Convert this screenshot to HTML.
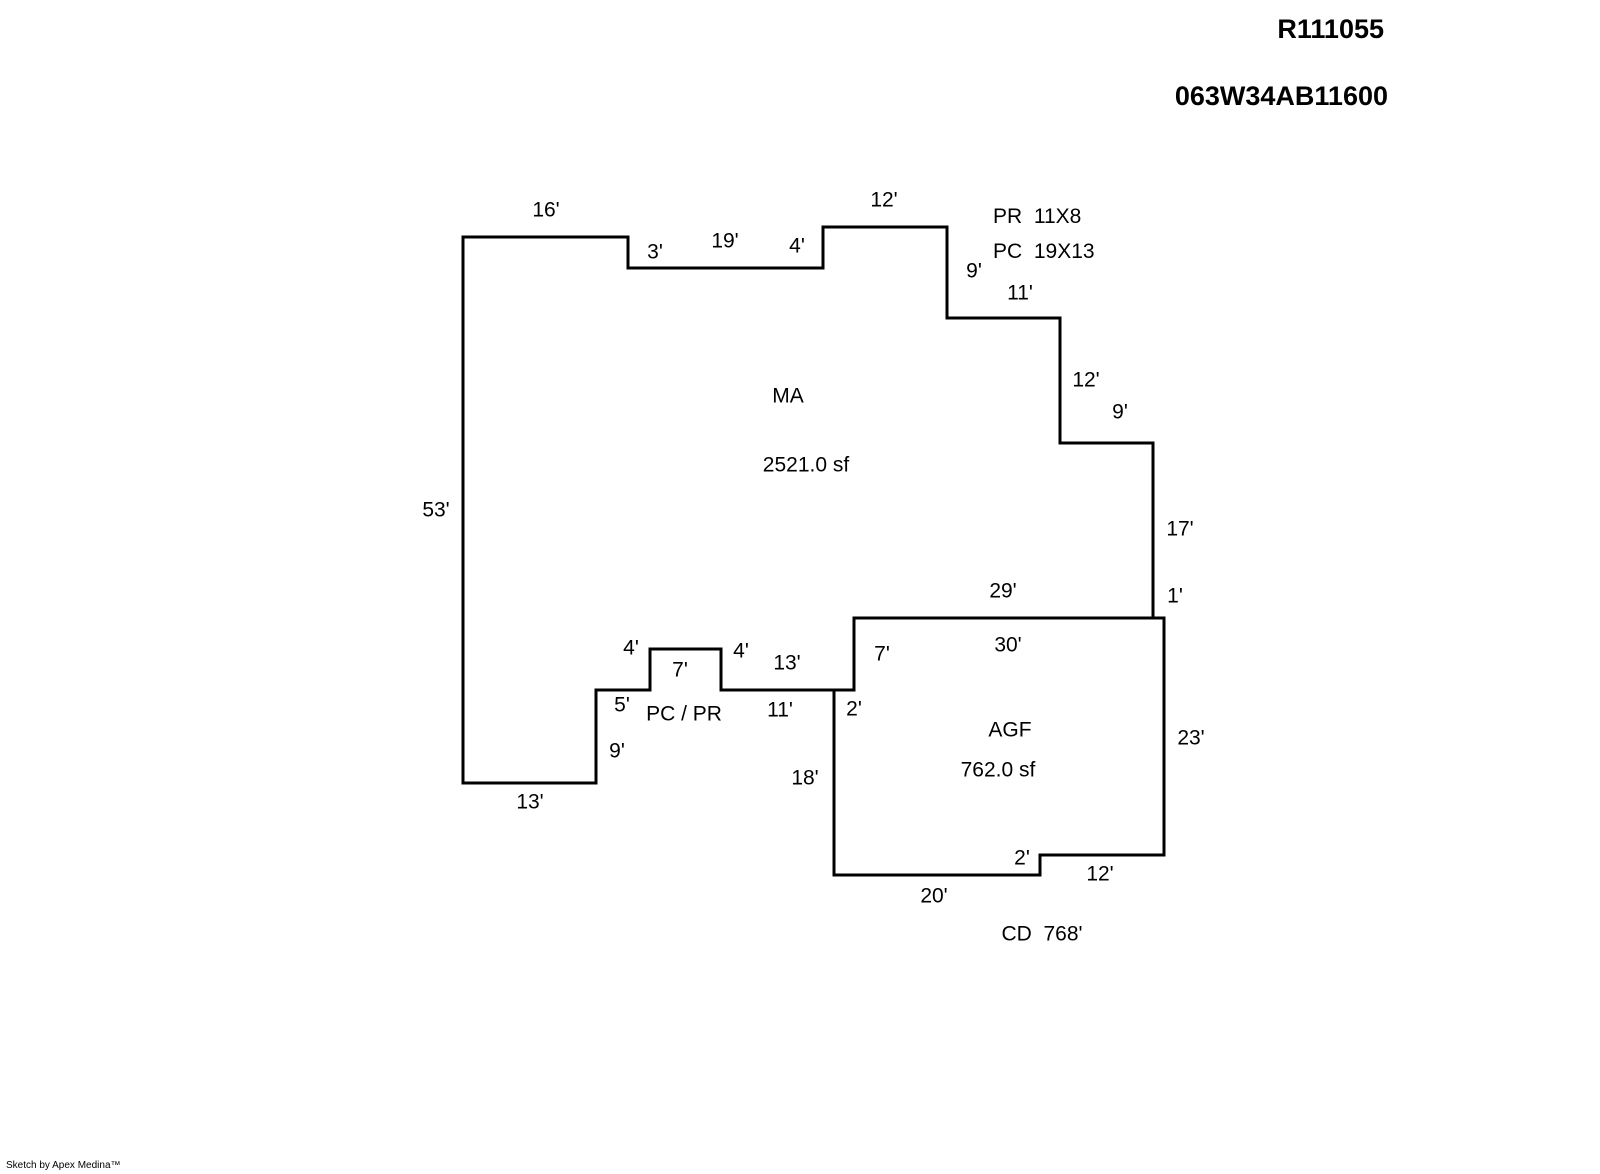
<!DOCTYPE html>
<html><head><meta charset="utf-8"><style>
html,body{margin:0;padding:0;background:#fff}
svg{display:block}
text{font-family:"Liberation Sans",Arial,sans-serif;font-size:21px;fill:#000}
</style></head><body>
<svg width="1600" height="1174" viewBox="0 0 1600 1174" xmlns="http://www.w3.org/2000/svg">
<g fill="none" stroke="#000" stroke-width="3" stroke-linejoin="miter" stroke-linecap="square">
<polyline points="834,690 834,875 1040,875 1040,855 1164,855 1164,618 854,618 854,690 721,690 721,649 650,649 650,690 596,690 596,783 463,783 463,237 628,237 628,268 823,268 823,227 947,227 947,318 1060,318 1060,443 1153,443 1153,618"/>
</g>
<g text-anchor="middle" dominant-baseline="central">
<text x="546" y="210">16'</text>
<text x="655" y="252">3'</text>
<text x="725" y="241">19'</text>
<text x="797" y="246">4'</text>
<text x="884" y="200">12'</text>
<text x="974" y="271">9'</text>
<text x="1020" y="293">11'</text>
<text x="1086" y="380">12'</text>
<text x="1120" y="412">9'</text>
<text x="788" y="396">MA</text>
<text x="806" y="465">2521.0 sf</text>
<text x="436" y="510">53'</text>
<text x="1180" y="529">17'</text>
<text x="1003" y="591">29'</text>
<text x="1175" y="596">1'</text>
<text x="1008" y="645">30'</text>
<text x="882" y="654">7'</text>
<text x="631" y="648">4'</text>
<text x="680" y="670">7'</text>
<text x="741" y="651">4'</text>
<text x="787" y="663">13'</text>
<text x="622" y="705">5'</text>
<text x="684" y="714">PC / PR</text>
<text x="780" y="710">11'</text>
<text x="854" y="709">2'</text>
<text x="1010" y="730">AGF</text>
<text x="998" y="770">762.0 sf</text>
<text x="1191" y="738">23'</text>
<text x="617" y="751">9'</text>
<text x="805" y="778">18'</text>
<text x="530" y="802">13'</text>
<text x="1022" y="858">2'</text>
<text x="1100" y="874">12'</text>
<text x="934" y="896">20'</text>
<text x="1042" y="934" xml:space="preserve">CD  768'</text>
</g>
<text x="993" y="223" xml:space="preserve">PR  11X8</text>
<text x="993" y="258" xml:space="preserve">PC  19X13</text>
<text x="1384" y="38" text-anchor="end" style="font-weight:bold;font-size:27px">R111055</text>
<text x="1388" y="105" text-anchor="end" style="font-weight:bold;font-size:27px">063W34AB11600</text>
<text x="6" y="1168" style="font-size:10px">Sketch by Apex Medina™</text>
</svg>
</body></html>
